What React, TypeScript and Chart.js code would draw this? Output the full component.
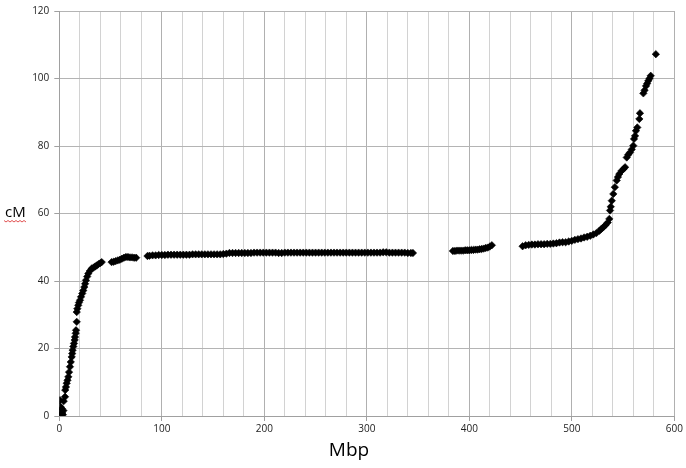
import React, { useEffect, useRef } from "react";
import { Chart, registerables } from "chart.js";

Chart.register(...registerables);

// Segments of the scatter (Mbp, cM)
const riseX = [0.5, 1.2, 2, 2.8, 3.5, 4, 1, 0.7, 2.5, 4.3, 5.6, 5.8, 6.5, 7.2, 8, 8.8, 9.5, 10.4, 11.2, 12.1, 12.6, 13, 13.7, 14.3, 15, 15.3, 16, 16.3, 17, 17, 17.6, 18.5, 19.2, 20.2, 21.2, 22.4, 23.4, 24.4, 25.2, 26, 27.2, 28.3, 29.8, 31.6, 33.5, 35, 36.5, 38.2, 40, 41.4];
const riseY = [0.5, 1.3, 0.3, 0.9, 0.4, 1.6, 2.8, 4.7, 2.2, 4.4, 5.7, 7.7, 8.6, 9.7, 10.6, 11.6, 13, 14.6, 16, 17.5, 18.5, 19.5, 20.6, 21.5, 22.5, 23.4, 24.5, 25.4, 27.9, 30.8, 31.8, 32.8, 33.6, 34.3, 35.3, 36.3, 37.2, 38.2, 39.2, 40.2, 41.3, 42.2, 43, 43.7, 44, 44.3, 44.6, 45, 45.3, 45.6];

const shoulderX = [51, 53, 55, 57, 59, 61, 63, 65, 67, 69, 71, 73, 75];
const shoulderY = [45.6, 45.7, 45.9, 46.1, 46.3, 46.6, 46.9, 47.1, 47.1, 47.0, 47.0, 46.9, 46.9];

const plateauX = [86, 88, 91, 94, 97, 100, 103, 106, 109, 112, 115, 118, 121, 124, 127, 130, 133, 136, 139, 142, 145, 148, 151, 154, 157, 160, 163, 166, 169, 172, 175, 178, 181, 184, 187, 190, 193, 196, 199, 202, 205, 208, 211, 214, 217, 220, 223, 226, 229, 232, 235, 238, 241, 244, 247, 250, 253, 256, 259, 262, 265, 268, 271, 274, 277, 280, 283, 286, 289, 292, 295, 298, 301, 304, 307, 310, 313, 316, 319, 322, 325, 328, 331, 334, 337, 340, 343, 345];
const plateauY = [47.4, 47.5, 47.6, 47.6, 47.7, 47.7, 47.7, 47.8, 47.8, 47.8, 47.8, 47.8, 47.8, 47.8, 47.8, 47.9, 47.9, 47.9, 47.9, 47.9, 47.9, 47.9, 47.9, 47.9, 47.9, 48.0, 48.1, 48.3, 48.3, 48.3, 48.3, 48.3, 48.3, 48.3, 48.3, 48.4, 48.4, 48.4, 48.4, 48.4, 48.4, 48.4, 48.4, 48.3, 48.3, 48.4, 48.4, 48.4, 48.4, 48.4, 48.4, 48.4, 48.4, 48.4, 48.4, 48.4, 48.4, 48.4, 48.4, 48.4, 48.4, 48.4, 48.4, 48.4, 48.4, 48.4, 48.4, 48.4, 48.4, 48.4, 48.4, 48.4, 48.4, 48.4, 48.4, 48.4, 48.4, 48.5, 48.5, 48.4, 48.4, 48.4, 48.4, 48.4, 48.4, 48.3, 48.3, 48.3];

const midX = [384, 386, 388, 390, 392, 394, 396, 398, 400, 402, 404, 406, 408, 410, 412, 414, 416, 418, 420, 422];
const midY = [48.9, 48.9, 49.0, 49.0, 49.0, 49.0, 49.1, 49.1, 49.1, 49.2, 49.2, 49.3, 49.3, 49.4, 49.5, 49.6, 49.8, 49.9, 50.2, 50.6];

const upperX = [452, 455, 458, 461, 464, 467, 470, 473, 476, 479, 482, 485, 488, 491, 494, 497, 500, 503, 506, 509, 512, 515, 518, 521, 524, 527, 529, 531, 533];
const upperY = [50.3, 50.6, 50.7, 50.8, 50.8, 50.9, 50.9, 50.9, 51.0, 51.0, 51.1, 51.2, 51.4, 51.5, 51.5, 51.7, 51.9, 52.2, 52.4, 52.6, 52.9, 53.1, 53.4, 53.8, 54.2, 54.9, 55.5, 56.0, 56.6];

const climbX = [535, 536.6, 537.3, 538, 539, 540.5, 542, 543.8, 545, 546.3, 548.7, 550.5, 552, 553.6, 555, 556.8, 558.5, 560, 560.7, 561.7, 562.6, 563.9, 565.9, 566.5, 569.8, 571, 572.4, 573.5, 574.6, 575.8, 577, 582];
const climbY = [57.3, 58.4, 60.9, 62, 63.8, 65.8, 67.8, 69.8, 70.8, 71.7, 72.7, 73.2, 73.7, 76.6, 77.4, 78.1, 79, 80.1, 82.1, 83, 84.5, 85.5, 88, 89.7, 95.6, 96.5, 97.8, 98.5, 99.3, 100, 100.8, 107.2];

const xTitle = "Mbp";
const yTitle = "cM";

const segmentsX = [riseX, shoulderX, plateauX, midX, upperX, climbX];
const segmentsY = [riseY, shoulderY, plateauY, midY, upperY, climbY];

export default function App() {
  const ref = useRef<HTMLCanvasElement | null>(null);

  useEffect(() => {
    if (!ref.current) return;
    const points: { x: number; y: number }[] = [];
    segmentsX.forEach((xs, s) => {
      xs.forEach((x, i) => points.push({ x, y: segmentsY[s][i] }));
    });

    const titles = {
      id: "titles",
      afterDraw(chart: any) {
        const ctx = chart.ctx as CanvasRenderingContext2D;
        ctx.save();
        ctx.fillStyle = "#000";
        ctx.textBaseline = "alphabetic";
        ctx.textAlign = "center";
        ctx.font = '19px "Open Sans"';
        ctx.fillText(xTitle, 349, 456);
        ctx.textAlign = "left";
        ctx.font = '15px "Open Sans"';
        ctx.fillText(yTitle, 5, 217);
        // spell-check squiggle
        ctx.strokeStyle = "#e05050";
        ctx.lineWidth = 1;
        ctx.beginPath();
        for (let px = 4, k = 0; px <= 26; px += 2, k++) {
          const py = k % 2 === 0 ? 220.5 : 222;
          if (k === 0) ctx.moveTo(px, py);
          else ctx.lineTo(px, py);
        }
        ctx.stroke();
        ctx.restore();
      },
    };

    const chart = new Chart(ref.current, {
      type: "scatter",
      data: {
        datasets: [
          {
            data: points,
            pointStyle: "rectRot",
            pointRadius: 3.7,
            pointBackgroundColor: "#000",
            pointBorderWidth: 0.6,
            pointBorderColor: "#000",
          },
        ],
      },
      options: {
        animation: false,
        responsive: true,
        maintainAspectRatio: false,
        layout: { padding: { top: 10, right: 11.7, left: 0, bottom: 0 } },
        plugins: { legend: { display: false }, tooltip: { enabled: false } },
        scales: {
          x: {
            type: "linear",
            min: 0,
            max: 600,
            afterFit: (s: any) => {
              s.height = 52;
            },
            ticks: {
              stepSize: 20,
              autoSkip: false,
              maxRotation: 0,
              padding: 2,
              color: "#222",
              font: { family: '"Open Sans"', size: 10 },
              callback: (v: any) => (Number(v) % 100 === 0 ? String(v) : ""),
            },
            grid: {
              color: (c: any) => (c.tick && c.tick.value % 100 === 0 ? "#b0b0b0" : "#d2d2d2"),
              tickColor: (c: any) => (c.tick && c.tick.value % 100 === 0 ? "#a0a0a0" : "rgba(0,0,0,0)"),
              tickLength: 5,
              lineWidth: 1,
            },
            border: { color: "#a0a0a0" },
          },
          y: {
            type: "linear",
            min: 0,
            max: 120,
            afterFit: (s: any) => {
              s.width = 59.3;
            },
            ticks: {
              stepSize: 20,
              padding: 5,
              color: "#222",
              font: { family: '"Open Sans"', size: 10 },
            },
            grid: {
              color: "#b4b4b4",
              tickColor: "#a0a0a0",
              tickLength: 5,
              lineWidth: 1,
            },
            border: { color: "#a0a0a0" },
          },
        },
      },
      plugins: [titles],
    });
    return () => chart.destroy();
  }, []);

  return (
    <div style={{ position: "fixed", left: 0, top: 0, width: 686, height: 468, background: "#fff" }}>
      <canvas ref={ref} />
    </div>
  );
}
